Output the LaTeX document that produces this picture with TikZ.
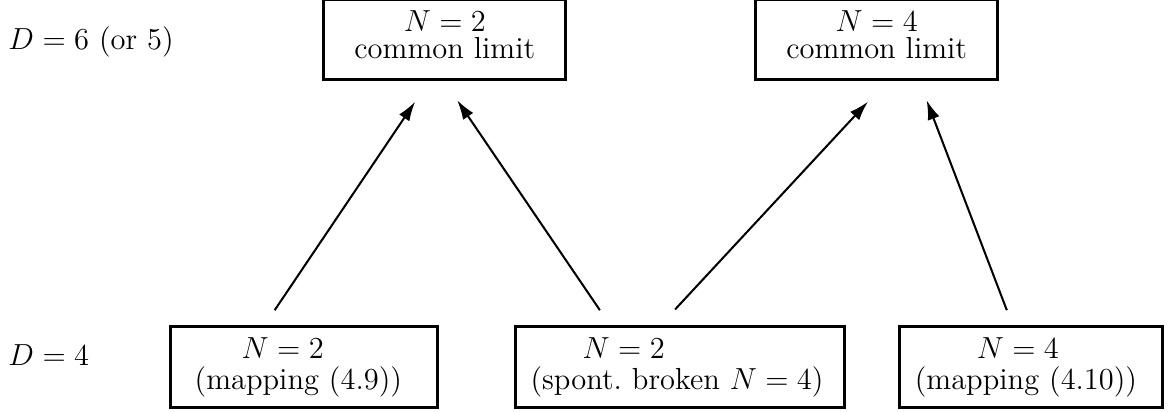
\documentclass[tikz,12pt,border=0pt]{standalone}
\usepackage{tikz}
\usetikzlibrary{positioning, arrows.meta}

\begin{document}
\begin{tikzpicture}
            \tikzset {
                basic node/.style={
                        draw,
                        line width=1.2pt,
                        inner sep=1pt,
                        minimum height=1.11cm
                    },
                top node/.style={
                        basic node,
                        align=center,
                        text depth=0.15cm,
                        font=\fontsize{12}{10.5}\selectfont,
                        minimum width=3.35cm
                    },
                low node/.style={
                        basic node,
                        align=left,
                        font=\fontsize{12}{12.2}\selectfont
                    },
                up arrow/.style={
                        line width=0.8pt,
                        -{Latex[length=2.7mm,width=1.7mm]}
                    }}
            \useasboundingbox (0,0) rectangle (16.16,5.70);

            % D = 6
            \node[top node] (tophalf) at (6.155,5.15) {$N=2$\\common limit};
            \node[top node] (topfull) at (12.13,5.15) {$N=4$\\common limit};

            % D = 4
            \node[low node, minimum width=3.69cm] (maphalf) at (4.21,0.622) {\hspace*{18.5pt}$N=2$\\(mapping (4.9))\hspace*{4.7pt}};
            \node[low node, minimum width=4.55cm] (broken) at (9.41,0.622) {\hspace*{20.5pt}$N=2$\\(spont.\ broken $N=4$)\hspace*{2.4pt}};
            \node[low node, minimum width=3.64cm] (mapfull) at (14.27,0.622) {\hspace*{24.4pt}$N=4$\\(mapping (4.10))\hspace*{4.3pt}};

            % dimensions
            \node[anchor=base west, inner sep=0pt] (dsix) at (0.11,5.01) {$D=6$ (or 5)};
            \node[anchor=base west, inner sep=0pt] (dfour) at (0.11,0.636) {$D=4$};

            % limits
            \draw[up arrow] ([xshift=-0.41cm,yshift=0.21cm]maphalf.north) -- ([xshift=-0.41cm,yshift=-0.28cm]tophalf.south);
            \draw[up arrow] ([xshift=-1.11cm,yshift=0.21cm]broken.north) -- ([xshift=0.17cm,yshift=-0.26cm]tophalf.south);
            \draw[up arrow] ([xshift=-0.07cm,yshift=0.22cm]broken.north) -- ([xshift=-0.12cm,yshift=-0.28cm]topfull.south);
            \draw[up arrow] ([xshift=-0.34cm,yshift=0.21cm]mapfull.north) -- ([xshift=0.69cm,yshift=-0.26cm]topfull.south);
        \end{tikzpicture}
\end{document}
